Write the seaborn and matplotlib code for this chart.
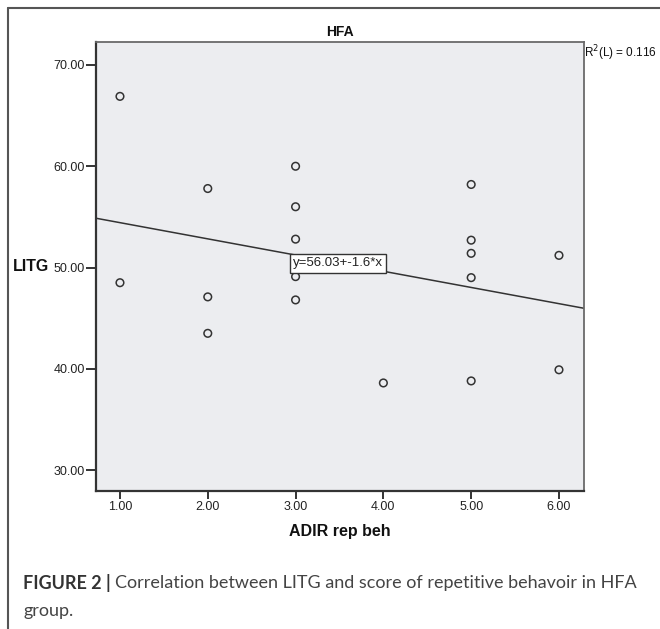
import numpy as np
import pandas as pd
import matplotlib
matplotlib.use("Agg")
import matplotlib.pyplot as plt
from matplotlib.lines import Line2D
import seaborn as sns

# data
adir_rep_beh = [1, 1, 2, 2, 2, 3, 3, 3, 3, 3, 4, 5, 5, 5, 5, 5, 6, 6]
litg = [66.9, 48.5, 57.8, 47.1, 43.5, 60.0, 56.0, 52.8, 49.1, 46.8,
        38.6, 58.2, 52.7, 51.4, 49.0, 38.8, 51.2, 39.9]
intercept = 56.03
slope = -1.6
r2_linear = 0.116
x_ticks = [1, 2, 3, 4, 5, 6]
y_ticks = [30, 40, 50, 60, 70]

df = pd.DataFrame({"ADIR rep beh": adir_rep_beh, "LITG": litg})

sns.set_style("white")
plt.rcParams['font.family'] = ['Liberation Sans', 'DejaVu Sans']

fig = plt.figure(figsize=(6.6, 6.29), dpi=100)
W, H = 660, 629
ax = fig.add_axes([96 / W, 1 - 491 / H, (584 - 96) / W, (491 - 42) / H])
ax.set_facecolor('#ECEDF0')

sns.scatterplot(data=df, x="ADIR rep beh", y="LITG", ax=ax, marker='o', s=30,
                facecolor='none', edgecolor='#333333', linewidth=1.1, zorder=3)

# fit line from the reported equation
ax.axline((0, intercept), slope=slope, color='#333333', lw=1.1, zorder=2)
ax.text(2.97, 50.4, f"y={intercept}+{slope}*x", fontsize=9.5, va='center', ha='left',
        color='#222222', zorder=4,
        bbox=dict(boxstyle='square,pad=0.25', facecolor='white', edgecolor='#333333', lw=1))

ax.set_xlim(0.727, 6.285)
ax.set_ylim(27.93, 72.27)
ax.set_xticks(x_ticks)
ax.set_xticklabels([f"{v:.2f}" for v in x_ticks])
ax.set_yticks(y_ticks)
ax.set_yticklabels([f"{v:.2f}" for v in y_ticks])
ax.tick_params(axis='y', direction='out', length=7, width=1.4, pad=1,
               labelsize=9, labelcolor='#222222', color='#333333', left=True)
ax.tick_params(axis='x', direction='out', length=5.5, width=1.4, pad=2,
               labelsize=9, labelcolor='#222222', color='#333333', bottom=True)

for side in ['left', 'bottom']:
    ax.spines[side].set_color('#333333')
    ax.spines[side].set_linewidth(1.6)
for side in ['top', 'right']:
    ax.spines[side].set_color('#6a6a6a')
    ax.spines[side].set_linewidth(1.3)

ax.set_xlabel("ADIR rep beh", fontsize=11.5, fontweight='bold', color='#111111')
ax.xaxis.set_label_coords(0.5, -0.091)
ax.xaxis.label.set_va('center')
ax.set_ylabel("LITG", fontsize=11.5, fontweight='bold', color='#111111', rotation=0)
ax.yaxis.set_label_coords(-0.133, 0.5)
ax.yaxis.label.set_va('center')
ax.yaxis.label.set_ha('center')

ax.text(0.5, 1.022, "HFA", transform=ax.transAxes, ha='center', va='center',
        fontsize=10, fontweight='bold', color='#111111')
ax.text(1.0, 0.9755, f"R$^2$(L) = {r2_linear}", transform=ax.transAxes,
        ha='left', va='center', fontsize=8.5, color='#111111')

# outer frame
fig.add_artist(Line2D([8 / W, 8 / W], [0, 1 - 8 / H], color='#555555', lw=1.5))
fig.add_artist(Line2D([8 / W, 1], [1 - 8 / H, 1 - 8 / H], color='#555555', lw=1.5))

# caption
cap_font = ['Lato', 'DejaVu Sans']
t1 = fig.text(23 / W, 1 - 583 / H, "FIGURE 2 |", fontsize=13, fontweight='bold',
              color='#333333', va='center', ha='left', family=cap_font)
bb = t1.get_window_extent(renderer=fig.canvas.get_renderer())
fig.text(bb.x1 / W + 4 / W, 1 - 583 / H,
         "Correlation between LITG and score of repetitive behavoir in HFA",
         fontsize=13, color='#444444', va='center', ha='left', family=cap_font)
fig.text(23 / W, 1 - 611 / H, "group.", fontsize=13, color='#444444',
         va='center', ha='left', family=cap_font)

fig.savefig("out.png", dpi=100, facecolor='white')
